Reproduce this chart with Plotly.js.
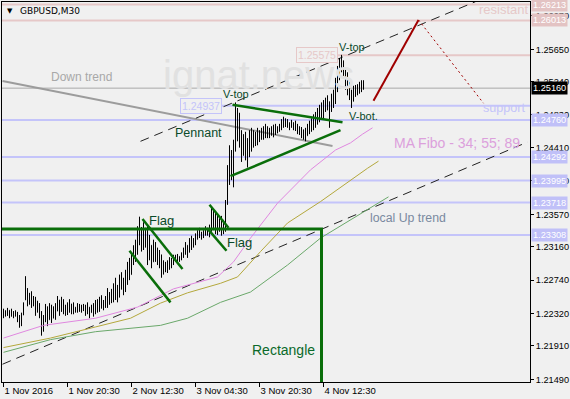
<!DOCTYPE html>
<html><head><meta charset="utf-8">
<script src="https://cdn.plot.ly/plotly-3.0.1.min.js"></script>
<style>html,body{margin:0;padding:0;background:#f0f0f0;}#chart{width:570px;height:399px;}</style>
</head><body><div id="chart"></div>
<script>
// GBPUSD M30, bars from 1 Nov 2016 04:30 to 4 Nov 2016 22:30
const barOpen = [1.2230,1.2233,1.2230,1.2236,1.2229,1.2234,1.2230,1.2232,1.2224,1.2218,
1.2230,1.2249,1.2262,1.2248,1.2255,1.2243,1.2250,1.2235,1.2244,1.2230,
1.2212,1.2226,1.2238,1.2224,1.2240,1.2226,1.2238,1.2235,1.2249,1.2235,
1.2248,1.2236,1.2240,1.2234,1.2244,1.2236,1.2240,1.2236,1.2242,1.2237,
1.2240,1.2238,1.2234,1.2240,1.2233,1.2240,1.2236,1.2245,1.2238,1.2250,
1.2242,1.2246,1.2250,1.2244,1.2255,1.2250,1.2265,1.2255,1.2262,1.2275,
1.2266,1.2272,1.2283,1.2290,1.2281,1.2302,1.2310,1.2320,1.2335,1.2325,
1.2336,1.2320,1.2334,1.2300,1.2318,1.2297,1.2320,1.2305,1.2298,1.2306,
1.2285,1.2295,1.2288,1.2296,1.2290,1.2298,1.2302,1.2300,1.2304,1.2300,
1.2307,1.2312,1.2318,1.2309,1.2324,1.2318,1.2325,1.2330,1.2334,1.2330,
1.2332,1.2335,1.2339,1.2334,1.2340,1.2360,1.2345,1.2352,1.2338,1.2348,
1.2336,1.2345,1.2370,1.2410,1.2405,1.2430,1.2445,1.2480,1.2455,1.2450,
1.2431,1.2452,1.2435,1.2440,1.2458,1.2445,1.2455,1.2450,1.2460,1.2452,
1.2462,1.2456,1.2466,1.2458,1.2462,1.2460,1.2466,1.2462,1.2466,1.2468,
1.2474,1.2470,1.2475,1.2470,1.2468,1.2472,1.2466,1.2470,1.2462,1.2460,
1.2456,1.2460,1.2456,1.2468,1.2465,1.2475,1.2478,1.2482,1.2486,1.2490,
1.2494,1.2498,1.2500,1.2499,1.2490,1.2505,1.2510,1.2525,1.2540,1.2550,
1.2540,1.2532,1.2520,1.2512,1.2505,1.2510,1.2515,1.2512,1.2518,1.2520,1.2522];
const barHigh = [1.2238,1.2236,1.2239,1.2236,1.2238,1.2235,1.2236,1.2234,1.2230,1.2233,
1.2246,1.2279,1.2264,1.2258,1.2260,1.2254,1.2253,1.2248,1.2245,1.2235,
1.2230,1.2244,1.2241,1.2245,1.2243,1.2241,1.2245,1.2254,1.2249,1.2253,
1.2250,1.2243,1.2246,1.2250,1.2244,1.2246,1.2240,1.2245,1.2244,1.2243,
1.2244,1.2243,1.2246,1.2240,1.2243,1.2245,1.2249,1.2250,1.2253,1.2255,
1.2249,1.2254,1.2264,1.2259,1.2263,1.2270,1.2277,1.2268,1.2281,1.2284,
1.2277,1.2287,1.2297,1.2302,1.2308,1.2318,1.2325,1.2342,1.2354,1.2341,
1.2347,1.2340,1.2342,1.2331,1.2318,1.2325,1.2322,1.2315,1.2312,1.2306,
1.2299,1.2297,1.2299,1.2303,1.2302,1.2306,1.2306,1.2307,1.2304,1.2309,
1.2315,1.2322,1.2318,1.2327,1.2330,1.2327,1.2333,1.2337,1.2340,1.2335,
1.2337,1.2342,1.2340,1.2344,1.2367,1.2362,1.2360,1.2356,1.2352,1.2355,
1.2350,1.2375,1.2419,1.2444,1.2438,1.2451,1.2498,1.2491,1.2485,1.2463,
1.2458,1.2461,1.2453,1.2463,1.2466,1.2463,1.2461,1.2466,1.2463,1.2466,
1.2468,1.2471,1.2468,1.2466,1.2468,1.2470,1.2471,1.2468,1.2471,1.2477,
1.2480,1.2478,1.2477,1.2473,1.2476,1.2473,1.2475,1.2471,1.2468,1.2467,
1.2464,1.2466,1.2471,1.2475,1.2478,1.2483,1.2486,1.2491,1.2495,1.2498,
1.2501,1.2504,1.2507,1.2499,1.2509,1.2514,1.2529,1.2544,1.2554,1.2558,
1.2551,1.2541,1.2536,1.2524,1.2514,1.2519,1.2520,1.2521,1.2524,1.2526,1.2526];
const barLow = [1.2226,1.2228,1.2229,1.2226,1.2228,1.2226,1.2228,1.2221,1.2214,1.2216,
1.2230,1.2249,1.2241,1.2243,1.2239,1.2241,1.2229,1.2233,1.2226,1.2204,
1.2209,1.2221,1.2216,1.2224,1.2220,1.2226,1.2224,1.2235,1.2229,1.2234,
1.2231,1.2229,1.2230,1.2233,1.2231,1.2231,1.2233,1.2233,1.2234,1.2233,
1.2235,1.2229,1.2231,1.2226,1.2233,1.2228,1.2231,1.2233,1.2234,1.2238,
1.2236,1.2239,1.2239,1.2243,1.2245,1.2246,1.2249,1.2246,1.2252,1.2262,
1.2255,1.2259,1.2268,1.2274,1.2281,1.2293,1.2297,1.2306,1.2318,1.2310,
1.2312,1.2315,1.2293,1.2299,1.2289,1.2297,1.2297,1.2293,1.2289,1.2277,
1.2281,1.2284,1.2283,1.2287,1.2289,1.2293,1.2297,1.2297,1.2297,1.2299,
1.2302,1.2306,1.2302,1.2309,1.2312,1.2315,1.2318,1.2325,1.2327,1.2325,
1.2327,1.2330,1.2330,1.2328,1.2335,1.2337,1.2332,1.2331,1.2335,1.2330,
1.2332,1.2335,1.2369,1.2394,1.2400,1.2391,1.2436,1.2449,1.2441,1.2423,
1.2431,1.2425,1.2416,1.2429,1.2436,1.2441,1.2443,1.2444,1.2448,1.2451,
1.2451,1.2453,1.2453,1.2453,1.2456,1.2454,1.2457,1.2459,1.2461,1.2463,
1.2466,1.2467,1.2466,1.2463,1.2466,1.2463,1.2462,1.2458,1.2457,1.2453,
1.2451,1.2449,1.2456,1.2458,1.2461,1.2463,1.2466,1.2470,1.2473,1.2476,
1.2478,1.2486,1.2488,1.2466,1.2486,1.2491,1.2496,1.2511,1.2526,1.2536,
1.2529,1.2514,1.2507,1.2501,1.2491,1.2499,1.2505,1.2507,1.2509,1.2511,1.2514];
const barClose = [1.2233,1.2230,1.2236,1.2229,1.2234,1.2230,1.2232,1.2224,1.2218,1.2230,
1.2244,1.2262,1.2248,1.2255,1.2243,1.2250,1.2235,1.2244,1.2230,1.2212,
1.2226,1.2238,1.2222,1.2240,1.2226,1.2238,1.2230,1.2250,1.2235,1.2248,
1.2236,1.2240,1.2234,1.2246,1.2236,1.2242,1.2236,1.2242,1.2237,1.2240,
1.2238,1.2234,1.2242,1.2230,1.2240,1.2236,1.2245,1.2238,1.2250,1.2242,
1.2246,1.2250,1.2244,1.2255,1.2250,1.2265,1.2255,1.2262,1.2275,1.2266,
1.2272,1.2283,1.2290,1.2280,1.2302,1.2310,1.2320,1.2335,1.2325,1.2336,
1.2320,1.2334,1.2300,1.2325,1.2295,1.2320,1.2305,1.2298,1.2306,1.2285,
1.2295,1.2288,1.2296,1.2290,1.2298,1.2302,1.2300,1.2305,1.2300,1.2307,
1.2312,1.2318,1.2308,1.2324,1.2318,1.2325,1.2330,1.2334,1.2330,1.2332,
1.2335,1.2339,1.2334,1.2340,1.2360,1.2345,1.2352,1.2338,1.2348,1.2336,
1.2345,1.2370,1.2410,1.2405,1.2430,1.2445,1.2480,1.2455,1.2450,1.2430,
1.2452,1.2435,1.2440,1.2458,1.2445,1.2455,1.2450,1.2460,1.2452,1.2462,
1.2456,1.2466,1.2458,1.2462,1.2460,1.2466,1.2462,1.2466,1.2468,1.2474,
1.2470,1.2475,1.2470,1.2468,1.2472,1.2466,1.2470,1.2462,1.2460,1.2456,
1.2460,1.2455,1.2468,1.2465,1.2475,1.2478,1.2482,1.2486,1.2490,1.2494,
1.2498,1.2500,1.2504,1.2490,1.2505,1.2510,1.2525,1.2540,1.2550,1.2540,
1.2532,1.2520,1.2512,1.2505,1.2510,1.2515,1.2512,1.2518,1.2520,1.2522,1.2516];

// time axis labels (bar index -> label)
const timeTickBars = [0, 32, 64, 96, 128, 160];
const timeTickLabels = ['1 Nov 2016', '1 Nov 20:30', '2 Nov 12:30', '3 Nov 04:30', '3 Nov 20:30', '4 Nov 12:30'];
// price axis ticks
const priceTicks = [1.2149, 1.2191, 1.2232, 1.2274, 1.2316, 1.2357, 1.2399, 1.2441, 1.2483, 1.2524, 1.2565, 1.2607];
const priceTickLabels = ['1.21490','1.21910','1.22320','1.22740','1.23160','1.23570','1.23990','1.24410','1.24830','1.25240','1.25650','1.26070'];

// moving averages (MA Fibo 34, 55, 89) read at sample bars
const ma34Bars = [0, 20, 46, 67, 85, 107, 115, 123.5, 137, 148.5, 153.5, 166, 173.5, 179.5, 184.5];
const ma34Vals = [1.2201, 1.2217, 1.2226, 1.2240, 1.2263, 1.2278, 1.2297, 1.2327, 1.2371, 1.2400, 1.2413, 1.2438, 1.2447, 1.2458, 1.2466];
const ma55Bars = [0, 23.5, 46, 63.5, 78.5, 92, 108.5, 117, 128.5, 142, 158.5, 173.5, 182, 187.5];
const ma55Vals = [1.2189, 1.2201, 1.2215, 1.2226, 1.2245, 1.2258, 1.2270, 1.2278, 1.2310, 1.2346, 1.2373, 1.2400, 1.2415, 1.2424];
const ma89Bars = [0, 23.5, 46, 78.5, 92, 108.5, 123.5, 142, 158.5, 175, 192.5];
const ma89Vals = [1.2183, 1.2199, 1.2209, 1.2217, 1.2226, 1.2246, 1.2259, 1.2293, 1.2327, 1.2352, 1.2379];

// price levels
const resistLevels = [1.26213, 1.26013];
const supportLevels = [1.24760, 1.24292, 1.23995, 1.23718, 1.23308];
const vTopLevel = 1.25575, pennantTopLevel = 1.24937, bidPrice = 1.25160;
const rectTop = 1.23385, rectEndBar = 159;

// analysis lines: [bar0, price0, bar1, price1]
const downTrend = [-0.5, 1.2525, 164.5, 1.2443];
const upperChannel = [68.5, 1.2449, 236, 1.2625];
const localUpTrend = [-0.5, 1.2168, 262, 1.2448];
const pennantUpper = [114.5, 1.2495, 169.5, 1.2473];
const pennantLower = [113.5, 1.2405, 168.5, 1.2463];
const flag1Upper = [69.5, 1.2351, 89.5, 1.2288];
const flag1Lower = [63, 1.2311, 83.5, 1.2246];
const flag2Upper = [103, 1.2369, 112.5, 1.2340];
const flag2Lower = [102, 1.2339, 111.5, 1.2311];
const forecastUp = [185, 1.2500, 207.5, 1.2602];
const forecastDown = [207.5, 1.2602, 240, 1.2497];

const xIdx = barOpen.map((_, i) => i);
const XR = [-0.75, 263.25];
const F = 'Liberation Sans, Arial, sans-serif';
const LAV = '#c4c4fa', PINK = '#e6c8c8', DG = '#0a6e0a';

function seg(a, color, width, dash, layer) {
  return {type:'line', xref:'x', yref:'y', x0:a[0], y0:a[1], x1:a[2], y1:a[3],
    line:{color:color, width:width, dash:dash||'solid'}, layer:layer||'above'};
}
const shapes = [];
resistLevels.forEach(p => shapes.push({type:'line', xref:'paper', yref:'y', x0:0, x1:1, y0:p, y1:p, line:{color:PINK, width:2}, layer:'below'}));
supportLevels.forEach(p => shapes.push({type:'line', xref:'paper', yref:'y', x0:0, x1:1, y0:p, y1:p, line:{color:LAV, width:2}, layer:'below'}));
shapes.push({type:'line', xref:'x', yref:'y', x0:146.5, x1:XR[1], y0:vTopLevel, y1:vTopLevel, line:{color:PINK, width:2}, layer:'below'});
shapes.push({type:'line', xref:'x', yref:'y', x0:108.5, x1:XR[1], y0:pennantTopLevel, y1:pennantTopLevel, line:{color:LAV, width:2}, layer:'below'});
shapes.push({type:'line', xref:'paper', yref:'y', x0:0, x1:1, y0:bidPrice, y1:bidPrice, line:{color:'#a8a8a8', width:1}, layer:'below'});
shapes.push(seg(downTrend, '#9c9c9c', 2, 'solid', 'below'));
shapes.push(seg(upperChannel, '#222', 1, '9px,6px', 'below'));
shapes.push(seg(localUpTrend, '#222', 1, '9px,6px', 'below'));
shapes.push({type:'rect', xref:'x', yref:'y', x0:-10, x1:rectEndBar, y0:1.20, y1:rectTop, line:{color:DG, width:3}, fillcolor:'rgba(0,0,0,0)', layer:'above'});
[pennantUpper, pennantLower].forEach(a => shapes.push(seg(a, DG, 2.5)));
[flag1Upper, flag1Lower, flag2Upper, flag2Lower].forEach(a => shapes.push(seg(a, DG, 2.5)));
shapes.push(seg(forecastUp, '#a00000', 2));
shapes.push(seg(forecastDown, '#a00000', 1, '2px,3px'));

function txt(x, y, text, color, size, extra) {
  return Object.assign({xref:'x', yref:'y', x:x, y:y, text:text, showarrow:false,
    font:{family:F, size:size, color:color}, xanchor:'center', yanchor:'middle'}, extra||{});
}
function axisBox(p, bg) {
  return {xref:'paper', yref:'y', x:1, y:p, xanchor:'left', yanchor:'middle', xshift:1,
    text:p.toFixed(5), showarrow:false, bgcolor:bg, borderpad:1,
    font:{family:F, size:9.2, color:'#ffffff'}};
}
const annotations = [
  txt(127.5, 1.2533, 'ignat.news', '#e1e1e1', 40),
  {xref:'paper', yref:'paper', x:0.006, y:0.977, text:'▼', showarrow:false, xanchor:'left', yanchor:'middle', font:{family:'DejaVu Sans', size:7, color:'#000'}},
  {xref:'paper', yref:'paper', x:0.03, y:0.977, text:'GBPUSD,M30', showarrow:false, xanchor:'left', yanchor:'middle', font:{family:'DejaVu Sans', size:9, color:'#000'}},
  txt(39, 1.2530, 'Down trend', '#a8a8a8', 12),
  txt(97.5, 1.2460, 'Pennant', '#0a4a2a', 12.5),
  txt(116, 1.2509, 'V-top', '#0a4a2a', 11),
  txt(174, 1.2568, 'V-top', '#0a4a2a', 11),
  txt(180, 1.2481, 'V-bot.', '#0a4a2a', 11),
  txt(79, 1.2349, 'Flag', '#0a4a2a', 13),
  txt(118, 1.2321, 'Flag', '#0a4a2a', 13),
  txt(140, 1.2186, 'Rectangle', '#0a6a2a', 14),
  txt(202, 1.2352, 'local Up trend', '#7a8aa0', 12.3),
  txt(226.5, 1.2447, 'MA Fibo - 34; 55; 89', '#dca0dc', 14),
  txt(250.5, 1.2491, 'support', LAV, 12.6),
  txt(250, 1.2615, 'resistant', PINK, 13),
  txt(98.5, 1.2493, pennantTopLevel.toFixed(5), LAV, 10.5, {bordercolor:LAV, borderwidth:1, borderpad:1, bgcolor:'#f0f0f0'}),
  txt(156.5, 1.2558, vTopLevel.toFixed(5), PINK, 10.5, {bordercolor:PINK, borderwidth:1, borderpad:1, bgcolor:'#f0f0f0'}),
  axisBox(1.26213, '#e3c3c3'),
  axisBox(1.26013, '#e3c3c3'),
  axisBox(1.25160, '#000000'),
  axisBox(1.24760, '#c0c0f8'),
  axisBox(1.24292, '#c0c0f8'),
  axisBox(1.23995, '#c0c0f8'),
  axisBox(1.23718, '#c0c0f8'),
  axisBox(1.23308, '#c0c0f8')
];

const traces = [
  {type:'scatter', mode:'lines', x:ma89Bars, y:ma89Vals, line:{color:'#6aa86a', width:1}, hoverinfo:'skip'},
  {type:'scatter', mode:'lines', x:ma55Bars, y:ma55Vals, line:{color:'#b4a83c', width:1}, hoverinfo:'skip'},
  {type:'scatter', mode:'lines', x:ma34Bars, y:ma34Vals, line:{color:'#e088e0', width:1}, hoverinfo:'skip'},
  {type:'ohlc', x:xIdx, open:barOpen, high:barHigh, low:barLow, close:barClose, tickwidth:0.25,
   increasing:{line:{color:'#000', width:1}}, decreasing:{line:{color:'#000', width:1}}, hoverinfo:'skip'}
];

const layout = {
  width:570, height:399, margin:{l:2, r:40, t:2, b:17},
  paper_bgcolor:'#f0f0f0', plot_bgcolor:'#f0f0f0', showlegend:false,
  xaxis:{range:XR, tickmode:'array', tickvals:timeTickBars, ticktext:timeTickLabels,
    ticks:'outside', ticklen:4, tickcolor:'#000', showgrid:false, zeroline:false,
    showline:true, mirror:true, linecolor:'#000', linewidth:1,
    tickfont:{family:F, size:9.5, color:'#000'}, ticklabelposition:'outside right',
    rangeslider:{visible:false}, fixedrange:true},
  yaxis:{range:[1.21456, 1.26246], side:'right', tickmode:'array', tickvals:priceTicks, ticktext:priceTickLabels,
    ticks:'outside', ticklen:3, tickcolor:'#000', showgrid:false, zeroline:false,
    showline:true, mirror:true, linecolor:'#000', linewidth:1,
    tickfont:{family:F, size:9.2, color:'#000'}, fixedrange:true},
  shapes:shapes, annotations:annotations
};
Plotly.newPlot('chart', traces, layout, {staticPlot:true, displayModeBar:false});
</script></body></html>
